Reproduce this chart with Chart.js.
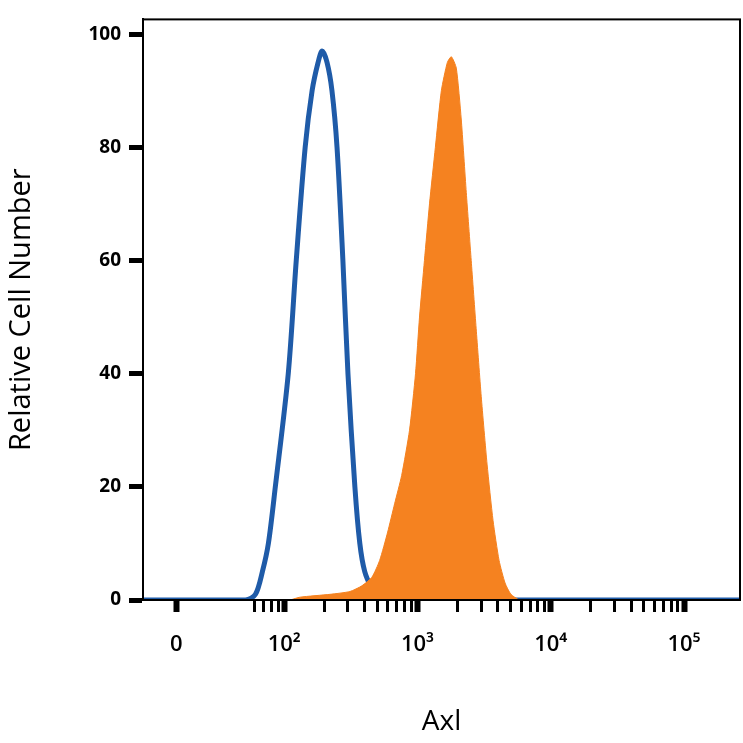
<!DOCTYPE html>
<html><head><script src="https://cdn.jsdelivr.net/npm/chart.js@4"></script>
<style>body{margin:0;background:#fff}#w{width:743px;height:743px}</style></head>
<body><div id="w"><canvas id="c"></canvas></div>
<script>
const blueX=[1.709,1.784,1.836,1.881,1.933,2.03,2.09,2.157,2.209,2.254,2.284,2.321,2.358,2.396,2.44,2.478,2.53,2.567,2.604,2.657,2.701,2.754];
const blueY=[0,1,5,10,20,40,60,80,90,95,97,95,90,80,60,40,20,10,5,2,0.5,0];
const orangeX=[2.045,2.119,2.343,2.493,2.582,2.657,2.716,2.776,2.828,2.881,2.94,2.985,3.015,3.052,3.09,3.134,3.179,3.224,3.254,3.291,3.328,3.366,3.403,3.44,3.478,3.522,3.567,3.612,3.657,3.701,3.761];
const orangeY=[0,0.5,1,1.5,2.5,4,7,12,17,22,30,40,50,60,70,80,90,95,96,94,85,72,60,48,36,24,14,7,3,1,0];
const xTickVals=[1.19,2,3,4,5];
const xTickLabels=['0','10²','10³','10⁴','10⁵'];
const yTicks=[0,20,40,60,80,100];
const pts=(xs,ys)=>xs.map((x,i)=>({x,y:ys[i]}));
const frame={id:'frame',afterDraw(c){const a=c.chartArea,g=c.ctx;g.save();g.strokeStyle='#000';g.lineWidth=2;g.strokeRect(a.left,a.top,a.right-a.left,a.bottom-a.top);g.restore();}};
new Chart(document.getElementById('c'),{
type:'scatter',
data:{datasets:[
{data:pts(orangeX,orangeY),showLine:true,fill:'origin',backgroundColor:'#f58220',borderColor:'#f58220',borderWidth:1,pointRadius:0,tension:0.2},
{data:pts([0.94,...blueX,5.42],[0,...blueY,0]),showLine:true,fill:false,borderColor:'#1f5ba8',borderWidth:5,pointRadius:0,tension:0.3}
]},
options:{responsive:true,maintainAspectRatio:false,animation:false,
layout:{padding:{top:0,right:3}},
plugins:{legend:{display:false},tooltip:{enabled:false}},
scales:{
x:{type:'linear',min:0.94,max:5.42,
afterBuildTicks(s){const t=xTickVals.map(v=>({value:v}));for(let n=1;n<5;n++)for(let k=2;k<10;k++){const v=n+Math.log10(k);if(v>1.75)t.push({value:v});}s.ticks=t.sort((a,b)=>a.value-b.value);},
afterFit(s){s.height=143;},
ticks:{autoSkip:false,maxRotation:0,color:'#000',font:{family:'Open Sans',size:22,weight:'600'},padding:20,
callback(v){const i=xTickVals.indexOf(v);return i>=0?xTickLabels[i]:'';}},
grid:{drawOnChartArea:false,tickLength:12,tickColor:'#000',tickWidth:c=>xTickVals.includes(c.tick&&c.tick.value)?6:3},
border:{color:'#000',width:2},
title:{display:true,text:'Axl',color:'#000',font:{family:'Open Sans',size:28},padding:{top:20}}},
y:{min:0,max:102.6,
afterBuildTicks(s){s.ticks=yTicks.map(v=>({value:v}));},
afterFit(s){s.width=143;},
ticks:{color:'#000',font:{family:'Open Sans',size:19,weight:'bold'},padding:8},
grid:{drawOnChartArea:false,tickLength:14,tickColor:'#000',tickWidth:5},
border:{color:'#000',width:2},
title:{display:true,text:'Relative Cell Number',color:'#000',font:{family:'Open Sans',size:29},padding:{bottom:20}}}
}},plugins:[frame]});
</script></body></html>
